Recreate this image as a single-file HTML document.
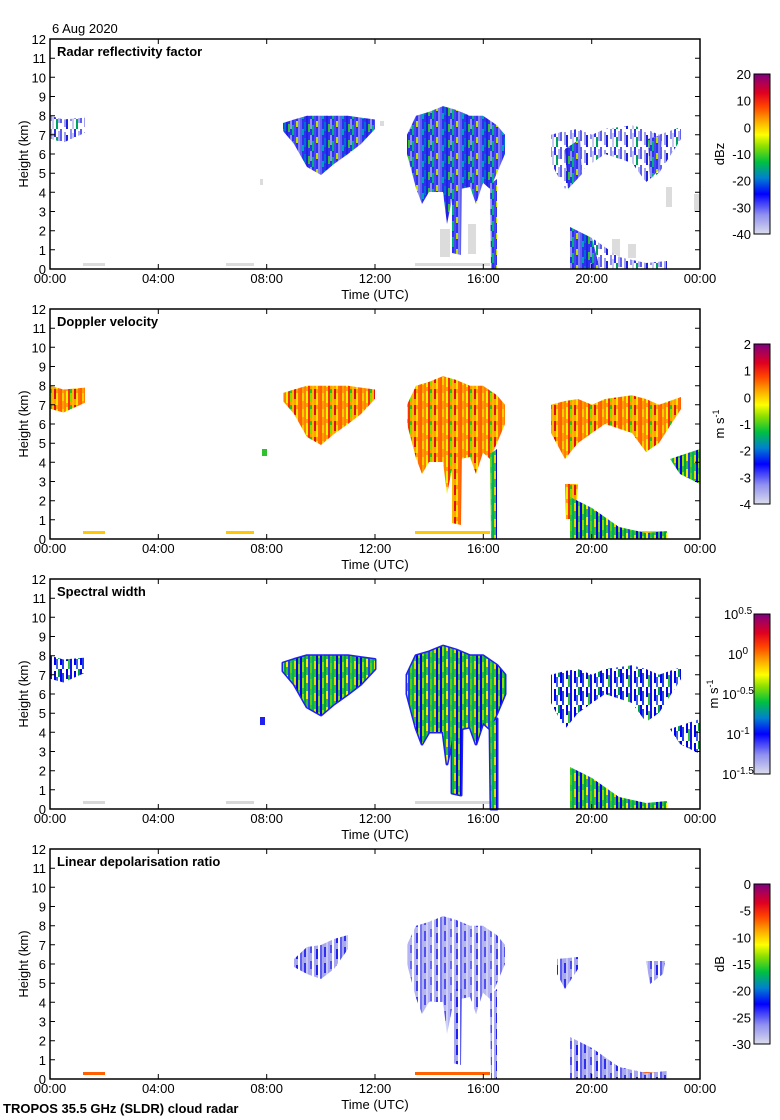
<!DOCTYPE html>
<html><head><meta charset="utf-8"><style>
body{margin:0;background:#fff;width:780px;height:1120px;overflow:hidden}
svg{display:block}
text{font-family:"Liberation Sans",sans-serif;font-size:13px;fill:#000}
.b{font-weight:bold}
</style></head><body>
<svg width="780" height="1120" xmlns="http://www.w3.org/2000/svg" xmlns:xlink="http://www.w3.org/1999/xlink">
<defs>
<linearGradient id="cm" x1="0" y1="1" x2="0" y2="0">
<stop offset="0" stop-color="#dcdcec"/><stop offset="0.12" stop-color="#9090f0"/>
<stop offset="0.25" stop-color="#0000ff"/><stop offset="0.35" stop-color="#0080d0"/>
<stop offset="0.45" stop-color="#00c040"/><stop offset="0.55" stop-color="#90e000"/>
<stop offset="0.62" stop-color="#ffff00"/><stop offset="0.7" stop-color="#ffb000"/>
<stop offset="0.8" stop-color="#ff4000"/><stop offset="0.88" stop-color="#e00020"/>
<stop offset="1" stop-color="#800080"/></linearGradient>
<pattern id="pz" patternUnits="userSpaceOnUse" width="20" height="16">
<rect width="20" height="16" fill="#3030f0"/>
<rect x="0" y="0" width="2" height="16" fill="#6060f0"/><rect x="4" y="3" width="2" height="9" fill="#0070d0"/>
<rect x="6" y="0" width="2" height="16" fill="#2020e0"/><rect x="8" y="5" width="2" height="8" fill="#30c030"/>
<rect x="10" y="0" width="2" height="10" fill="#9090f0"/><rect x="12" y="6" width="2" height="10" fill="#00b080"/>
<rect x="14" y="0" width="2" height="16" fill="#4848f0"/><rect x="16" y="2" width="2" height="6" fill="#c0e000"/>
<rect x="18" y="0" width="2" height="16" fill="#8080f0"/><rect x="2" y="10" width="2" height="6" fill="#00a0c0"/>
</pattern>
<pattern id="pzs" patternUnits="userSpaceOnUse" width="20" height="18">
<rect width="20" height="18" fill="#ffffff"/>
<rect x="0" y="0" width="2" height="12" fill="#6060f0"/><rect x="4" y="3" width="2" height="13" fill="#a0a0f0"/>
<rect x="6" y="6" width="2" height="12" fill="#2020e0"/><rect x="10" y="0" width="2" height="10" fill="#9090f0"/>
<rect x="12" y="4" width="2" height="14" fill="#c8c8f0"/><rect x="14" y="0" width="2" height="8" fill="#3030f0"/>
<rect x="16" y="8" width="2" height="10" fill="#00a060"/><rect x="18" y="2" width="2" height="10" fill="#b0b0f0"/>
</pattern>
<pattern id="pv" patternUnits="userSpaceOnUse" width="20" height="16">
<rect width="20" height="16" fill="#ffa000"/>
<rect x="0" y="0" width="2" height="16" fill="#ff6000"/><rect x="2" y="4" width="2" height="8" fill="#ffd000"/>
<rect x="4" y="0" width="2" height="16" fill="#ff8000"/><rect x="6" y="2" width="2" height="12" fill="#f0f000"/>
<rect x="8" y="0" width="2" height="16" fill="#ff3000"/><rect x="10" y="5" width="2" height="8" fill="#80e000"/>
<rect x="12" y="0" width="2" height="16" fill="#ffb800"/><rect x="14" y="0" width="2" height="10" fill="#e01010"/>
<rect x="16" y="4" width="2" height="12" fill="#ffe000"/><rect x="18" y="0" width="2" height="16" fill="#ff7000"/>
<rect x="10" y="0" width="2" height="4" fill="#20c020"/>
</pattern>
<pattern id="pw" patternUnits="userSpaceOnUse" width="20" height="16">
<rect width="20" height="16" fill="#30c030"/>
<rect x="0" y="0" width="2" height="16" fill="#0000f0"/><rect x="2" y="3" width="2" height="10" fill="#90e000"/>
<rect x="4" y="0" width="2" height="16" fill="#00a040"/><rect x="6" y="0" width="2" height="8" fill="#f0f000"/>
<rect x="8" y="0" width="2" height="16" fill="#2040f0"/><rect x="10" y="4" width="2" height="10" fill="#60d000"/>
<rect x="12" y="0" width="2" height="16" fill="#00b060"/><rect x="14" y="2" width="2" height="8" fill="#e0e000"/>
<rect x="16" y="0" width="2" height="16" fill="#0000e0"/><rect x="18" y="5" width="2" height="10" fill="#80e000"/>
</pattern>
<pattern id="pb" patternUnits="userSpaceOnUse" width="20" height="18">
<rect width="20" height="18" fill="#ffffff"/>
<rect x="0" y="0" width="2" height="14" fill="#0000f0"/><rect x="2" y="4" width="2" height="14" fill="#2040f0"/>
<rect x="6" y="0" width="2" height="10" fill="#0000e0"/><rect x="8" y="6" width="2" height="12" fill="#30c030"/>
<rect x="10" y="0" width="2" height="18" fill="#1010f0"/><rect x="14" y="2" width="2" height="12" fill="#0000f0"/>
<rect x="16" y="8" width="2" height="10" fill="#4060f0"/><rect x="18" y="0" width="2" height="8" fill="#00a040"/>
</pattern>
<pattern id="pl" patternUnits="userSpaceOnUse" width="20" height="16">
<rect width="20" height="16" fill="#a8a8f0"/>
<rect x="0" y="0" width="2" height="16" fill="#6060f0"/><rect x="4" y="2" width="2" height="10" fill="#3030f0"/>
<rect x="6" y="0" width="2" height="16" fill="#c8c8f4"/><rect x="10" y="0" width="2" height="8" fill="#5050f0"/>
<rect x="12" y="0" width="2" height="16" fill="#ffffff"/><rect x="16" y="4" width="2" height="10" fill="#2020f0"/>
<rect x="18" y="0" width="2" height="16" fill="#ffffff"/>
</pattern>
<polygon id="early" points="50,76.7 63.5,80.5 85,78.6 85,93.8 63.5,103.5 50,99.7"/>
<polygon id="m1" points="283,84 294,80.5 307,76.7 348,76.7 361,78.6 375,80.5 375,90 361,105 348,115 334,125 321,136 307,128 294,105 283,92"/>
<polygon id="m2" points="407,95.8 416,76.7 429,72.9 443,67.1 456,70.9 470,76.7 483,76.7 497,86.3 505,95.8 505,115 497,134 490,150 483,143.8 476,165 470,148 460,150 456,141 447,185 443,153 429,153 422,165 416,149 407,115"/>
<polygon id="c1" points="452,140 462,140 461,216 452,214"/>
<polygon id="c2" points="490,145 497,140 497,230 491,230"/>
<polygon id="d1" points="551,95.8 565,92 578,90 592,95.8 605,90 632,86.3 646,90 659,95.8 681,88 681,100 659,134 646,143 632,124 605,115 592,124 578,134 565,150 551,124"/>
<polygon id="e1" points="570,188 592,199 619,218 646,224 667,222 667,230 570,230"/>
<polygon id="m1x" points="294,110 307,98 321,96 334,90 348,86 348,100 334,120 321,130 307,125 294,118"/>
<polygon id="d4a" points="557,110 578,108 578,120 565,140 557,125"/>
<polygon id="d4b" points="646,112 665,112 663,125 650,135"/>
<g id="ax">
<rect x="50" y="0" width="650" height="230" fill="none" stroke="#000" stroke-width="1.5"/>
<path d="M50 19.2h5M50 38.3h5M50 57.5h5M50 76.7h5M50 95.8h5M50 115h5M50 134.2h5M50 153.3h5M50 172.5h5M50 191.7h5M50 210.8h5M700 19.2h-5M700 38.3h-5M700 57.5h-5M700 76.7h-5M700 95.8h-5M700 115h-5M700 134.2h-5M700 153.3h-5M700 172.5h-5M700 191.7h-5M700 210.8h-5M158.3 0v5M266.7 0v5M375 0v5M483.3 0v5M591.7 0v5M158.3 230v-5M266.7 230v-5M375 230v-5M483.3 230v-5M591.7 230v-5" stroke="#000" fill="none"/>
<g text-anchor="end">
<text x="46" y="235">0</text><text x="46" y="215.8">1</text><text x="46" y="196.7">2</text><text x="46" y="177.5">3</text><text x="46" y="158.3">4</text><text x="46" y="139.2">5</text><text x="46" y="120">6</text><text x="46" y="100.8">7</text><text x="46" y="81.7">8</text><text x="46" y="62.5">9</text><text x="46" y="43.3">10</text><text x="46" y="24.2">11</text><text x="46" y="5">12</text>
</g>
<g text-anchor="middle">
<text x="50" y="244">00:00</text><text x="158.3" y="244">04:00</text><text x="266.7" y="244">08:00</text><text x="375" y="244">12:00</text><text x="483.3" y="244">16:00</text><text x="591.7" y="244">20:00</text><text x="700" y="244">00:00</text>
<text x="375" y="260">Time (UTC)</text>
<text transform="translate(28,115) rotate(-90)">Height (km)</text>
</g>
</g>
</defs>

<text x="52" y="33">6 Aug 2020</text>

<!-- Panel 1 -->
<g transform="translate(0,39)">
<g fill="#dcdcdc">
<rect x="260" y="140" width="3" height="6"/><rect x="380" y="82" width="4" height="5"/>
<rect x="440" y="190" width="10" height="28"/><rect x="468" y="185" width="8" height="30"/>
<rect x="612" y="200" width="8" height="18"/><rect x="628" y="205" width="8" height="14"/><rect x="666" y="148" width="6" height="20"/><rect x="694" y="155" width="6" height="18"/>
<rect x="83" y="224" width="22" height="3"/><rect x="226" y="224" width="28" height="3"/><rect x="415" y="224" width="75" height="3"/>
</g>
<g fill="url(#pzs)">
<use xlink:href="#early"/><use xlink:href="#d1"/>
</g>
<g fill="url(#pz)">
<use xlink:href="#m1"/><use xlink:href="#m2"/><use xlink:href="#c1"/><use xlink:href="#c2"/>
<polygon points="565,110 580,100 582,135 568,150"/><polygon points="648,100 662,96 660,130 650,140"/>
<polygon points="570,188 592,199 600,230 570,230"/>
</g>
<g fill="url(#pzs)"><polygon points="592,199 619,218 646,224 667,222 667,230 600,230"/></g>
<text x="57" y="17" class="b">Radar reflectivity factor</text>
<use xlink:href="#ax"/>
</g>

<!-- Panel 2 -->
<g transform="translate(0,309)">
<g fill="#ffc800"><rect x="83" y="222" width="22" height="3"/><rect x="226" y="222" width="28" height="3"/><rect x="415" y="222" width="75" height="3"/><rect x="632" y="222" width="30" height="3"/></g>
<rect x="262" y="140" width="5" height="7" fill="#30c030"/>
<g fill="url(#pv)">
<use xlink:href="#early"/><use xlink:href="#m1"/><use xlink:href="#m2"/><use xlink:href="#c1"/><use xlink:href="#d1"/>
<polygon points="565,175 578,175 576,210 566,210" />
</g>
<g fill="url(#pw)"><use xlink:href="#c2"/><use xlink:href="#e1"/><polygon points="670,150 700,140 700,175 680,165"/></g>
<text x="57" y="17" class="b">Doppler velocity</text>
<use xlink:href="#ax"/>
</g>

<!-- Panel 3 -->
<g transform="translate(0,579)">
<g fill="#d8d8d8"><rect x="83" y="222" width="22" height="3"/><rect x="226" y="222" width="28" height="3"/><rect x="415" y="222" width="75" height="3"/></g>
<g fill="url(#pb)"><use xlink:href="#early"/><use xlink:href="#d1"/></g>
<g fill="#2020f0" stroke="#2020f0" stroke-width="3" stroke-linejoin="round">
<use xlink:href="#m1"/><use xlink:href="#m2"/><use xlink:href="#c1"/><use xlink:href="#c2"/>
</g>
<g fill="url(#pw)">
<use xlink:href="#m1"/><use xlink:href="#m2"/><use xlink:href="#c1"/><use xlink:href="#c2"/><use xlink:href="#e1"/>
</g>
<g fill="url(#pb)"><polygon points="670,150 700,140 700,175 680,165"/></g>
<rect x="260" y="138" width="5" height="8" fill="#2020f0"/>
<text x="57" y="17" class="b">Spectral width</text>
<use xlink:href="#ax"/>
</g>

<!-- Panel 4 -->
<g transform="translate(0,849)">
<g fill="#ff6000"><rect x="83" y="223" width="22" height="3"/><rect x="415" y="223" width="75" height="3"/><rect x="632" y="223" width="30" height="3"/></g>
<g fill="url(#pl)">
<use xlink:href="#m1x"/><use xlink:href="#m2" opacity="0.85"/><use xlink:href="#c1"/><use xlink:href="#c2"/><use xlink:href="#d4a"/><use xlink:href="#d4b"/><use xlink:href="#e1"/>
</g>
<text x="57" y="17" class="b">Linear depolarisation ratio</text>
<use xlink:href="#ax"/>
</g>

<!-- Colorbars -->
<g>
<rect x="754" y="74" width="16" height="160" fill="url(#cm)" stroke="#000"/>
<rect x="754" y="344" width="16" height="160" fill="url(#cm)" stroke="#000"/>
<rect x="754" y="614" width="16" height="160" fill="url(#cm)" stroke="#000"/>
<rect x="754" y="884" width="16" height="160" fill="url(#cm)" stroke="#000"/>
</g>
<g text-anchor="end">
<text x="751" y="79">20</text><text x="751" y="105.7">10</text><text x="751" y="132.3">0</text><text x="751" y="159">-10</text><text x="751" y="185.7">-20</text><text x="751" y="212.3">-30</text><text x="751" y="239">-40</text>
<text x="751" y="349">2</text><text x="751" y="375.7">1</text><text x="751" y="402.3">0</text><text x="751" y="429">-1</text><text x="751" y="455.7">-2</text><text x="751" y="482.3">-3</text><text x="751" y="509">-4</text>
<text x="751" y="889">0</text><text x="751" y="915.7">-5</text><text x="751" y="942.3">-10</text><text x="751" y="969">-15</text><text x="751" y="995.7">-20</text><text x="751" y="1022.3">-25</text><text x="751" y="1049">-30</text>
</g>
<g text-anchor="middle">
<text x="738" y="619">10<tspan dy="-5" font-size="10">0.5</tspan></text>
<text x="738" y="659">10<tspan dy="-5" font-size="10">0</tspan></text>
<text x="738" y="699">10<tspan dy="-5" font-size="10">-0.5</tspan></text>
<text x="738" y="739">10<tspan dy="-5" font-size="10">-1</tspan></text>
<text x="738" y="779">10<tspan dy="-5" font-size="10">-1.5</tspan></text>
<text transform="translate(724,154) rotate(-90)">dBz</text>
<text transform="translate(724,424) rotate(-90)">m s<tspan dy="-5" font-size="9">-1</tspan></text>
<text transform="translate(718,694) rotate(-90)">m s<tspan dy="-5" font-size="9">-1</tspan></text>
<text transform="translate(724,964) rotate(-90)">dB</text>
</g>
<text x="3" y="1113" class="b">TROPOS 35.5 GHz (SLDR) cloud radar</text>
</svg>
</body></html>
